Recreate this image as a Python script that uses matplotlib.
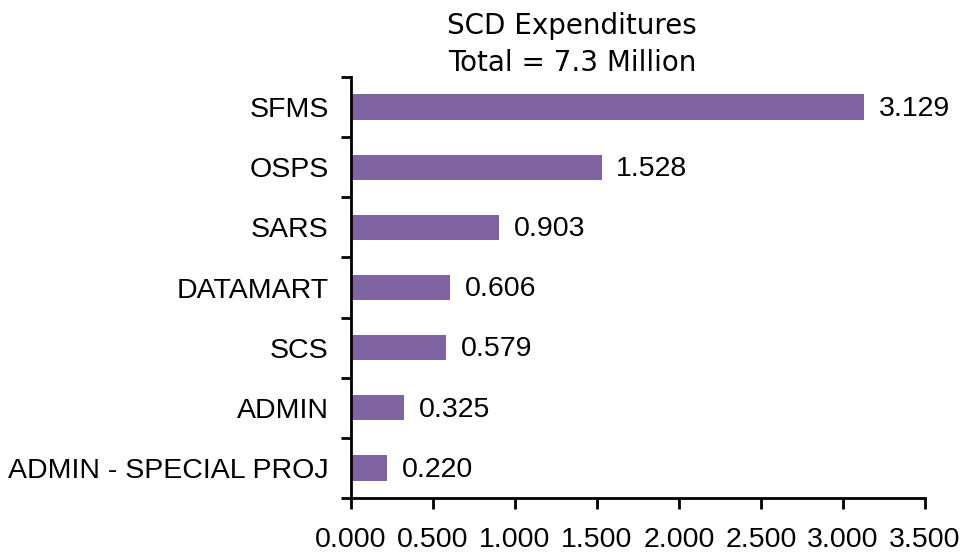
import matplotlib
matplotlib.use("Agg")
import matplotlib.pyplot as plt
import numpy as np

categories = ["SFMS", "OSPS", "SARS", "DATAMART", "SCS", "ADMIN", "ADMIN - SPECIAL PROJ"]
values = [3.129, 1.528, 0.903, 0.606, 0.579, 0.325, 0.220]
xticks = [0.0, 0.5, 1.0, 1.5, 2.0, 2.5, 3.0, 3.5]
title_lines = ["SCD Expenditures", "Total = 7.3 Million"]

FS = 20.5
fig = plt.figure(figsize=(9.66, 5.55), dpi=100)
ax = fig.add_axes([351/966, 1-498/555, (925-351)/966, (498-77)/555])

n = len(categories)
ypos = np.arange(n)[::-1]
ax.barh(ypos, values, height=0.42, color="#8064A2", edgecolor="none")

for y, v in zip(ypos, values):
    ax.text(v + 0.09, y - 0.03, f"{v:.3f}", va="center", ha="left",
            fontsize=FS, family="Liberation Sans", color="black")

ax.set_ylim(-0.5, n - 0.5)
ax.set_xlim(0, 3.5)
ax.set_yticks(ypos)
ax.set_yticklabels(categories, family="Liberation Sans", fontsize=FS)
ax.set_yticks(np.arange(-0.5, n, 1.0), minor=True)
ax.tick_params(axis="y", which="major", length=0, pad=16)
ax.tick_params(axis="y", which="minor", length=7, width=2, direction="out")
ax.set_xticks(xticks)
ax.set_xticklabels([f"{t:.3f}" for t in xticks], family="Liberation Sans", fontsize=FS)
ax.tick_params(axis="x", length=8, width=2, direction="out", pad=13)

for s in ["top", "right"]:
    ax.spines[s].set_visible(False)
for s in ["left", "bottom"]:
    ax.spines[s].set_linewidth(2)

fig.text(572/966, 1-26/555, title_lines[0], ha="center", va="center", fontsize=20,
         family="DejaVu Sans")
fig.text(572/966, 1-63/555, title_lines[1], ha="center", va="center", fontsize=20,
         family="DejaVu Sans")

fig.savefig("out.png", dpi=100)
